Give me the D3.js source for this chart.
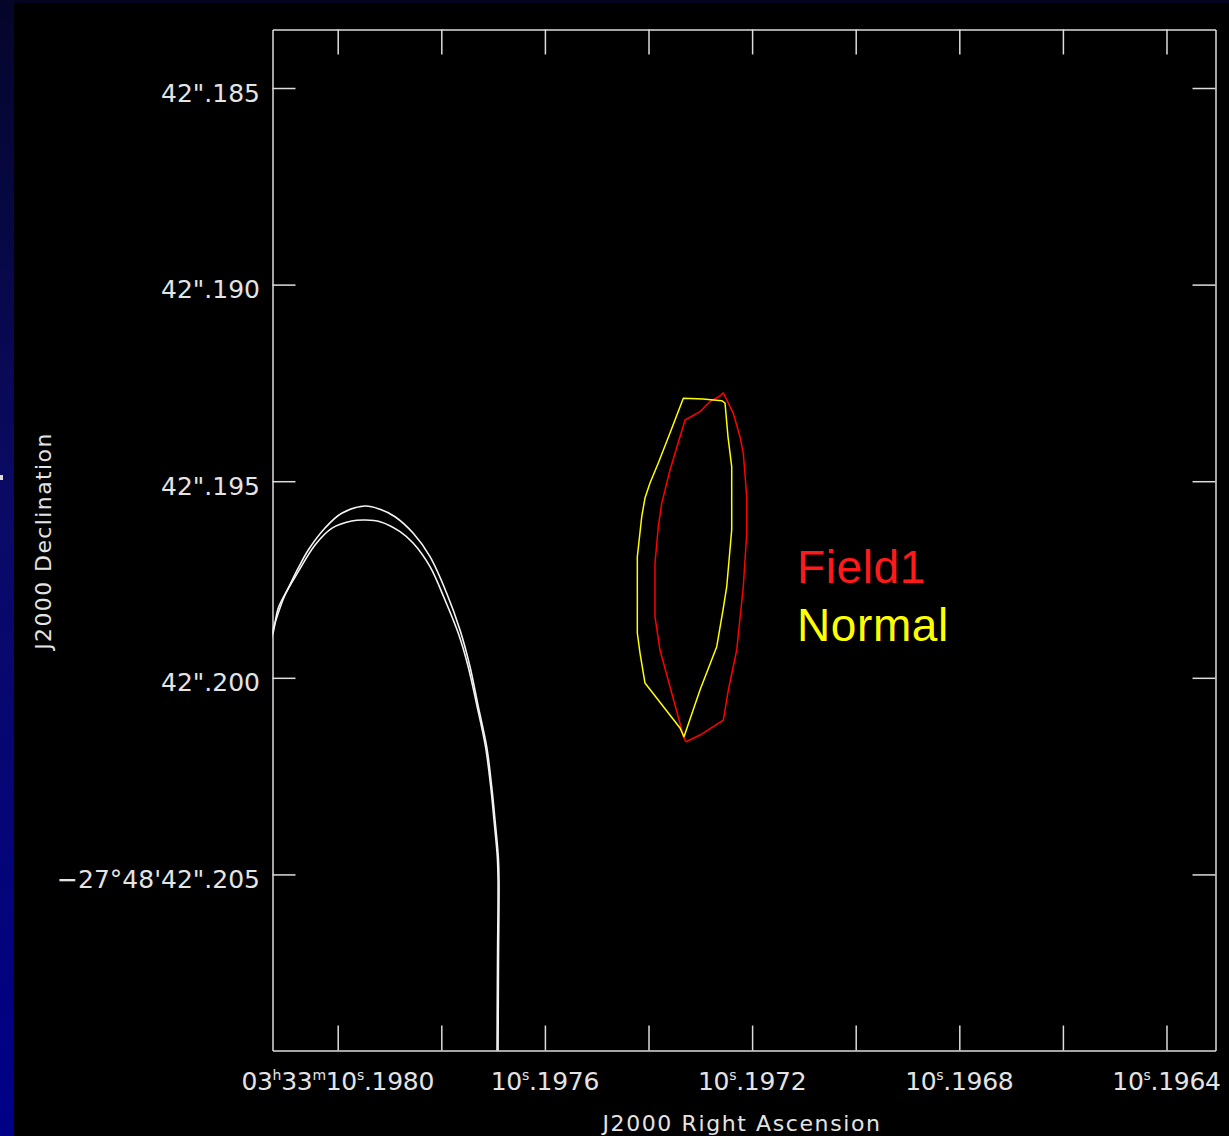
<!DOCTYPE html>
<html>
<head>
<meta charset="utf-8">
<script src="https://cdn.jsdelivr.net/npm/d3@7"></script>
<style>
  html, body { margin: 0; padding: 0; background: #000; }
  svg { display: block; }
</style>
</head>
<body>
<svg id="chart" width="1229" height="1136"></svg>
<script>
// ---- Axis ticks (RA in seconds of time past 03h33m, Dec in arcsec past -27°48') ----
const raTicks = [10.1980, 10.1978, 10.1976, 10.1974, 10.1972, 10.1970, 10.1968, 10.1966, 10.1964];
const raLabelTicks = [10.1980, 10.1976, 10.1972, 10.1968, 10.1964];
const raTickLabels = ["03^h33^m10^s.1980", "10^s.1976", "10^s.1972", "10^s.1968", "10^s.1964"];
const decTicks = [42.185, 42.190, 42.195, 42.200, 42.205];
const decTickLabels = ['42".185', '42".190', '42".195', '42".200', "\u221227\u00b048'42\".205"];

// ---- Contour: "Field1" ----
const field1RA = [10.1972556, 10.1972620, 10.1972813, 10.1973006, 10.1973295, 10.1973392, 10.1973585,
  10.1973745, 10.1973811, 10.1973875, 10.1973875, 10.1973778, 10.1973585, 10.1973392, 10.1973328,
  10.1973276, 10.1973006, 10.1972556, 10.1972459, 10.1972297, 10.1972170, 10.1972104, 10.1972104,
  10.1972170, 10.1972234, 10.1972363];
const field1Dec = [42.192749, 42.192833, 42.192978, 42.193232, 42.193443, 42.193868, 42.194715,
  42.195562, 42.196157, 42.197088, 42.198446, 42.199293, 42.200226, 42.201157, 42.201498,
  42.201625, 42.201455, 42.201073, 42.200310, 42.199293, 42.197683, 42.196325, 42.195394,
  42.194290, 42.193868, 42.193273];

// ---- Contour: "Normal" ----
const normalRA = [10.1973328, 10.1972948, 10.1972587, 10.1972523, 10.1972465, 10.1972394, 10.1972394,
  10.1972490, 10.1972562, 10.1972683, 10.1973006, 10.1973315, 10.1973392, 10.1974068, 10.1974164,
  10.1974216, 10.1974216, 10.1974131, 10.1974068, 10.1973971, 10.1973811, 10.1973585];
const normalDec = [42.192892, 42.192909, 42.192953, 42.193011, 42.193876, 42.194631, 42.196241,
  42.197683, 42.198276, 42.199209, 42.200310, 42.201498, 42.201276, 42.200132, 42.199369,
  42.198860, 42.196920, 42.195903, 42.195427, 42.195046, 42.194537, 42.193774];

// ---- Large white contour pair on the left ----
const arcOuterRA = [10.1981307, 10.1981243, 10.1981147, 10.1980954, 10.1980761, 10.1980568, 10.1980245,
  10.1979923, 10.1979473, 10.1979183, 10.1978894, 10.1978541, 10.1978218, 10.1977896, 10.1977639,
  10.1977446, 10.1977286, 10.1977124, 10.1977027, 10.1976963, 10.1976900, 10.1976886, 10.1976896,
  10.1976905];
const arcOuterDec = [42.199064, 42.198827, 42.198225, 42.197716, 42.197207, 42.196750, 42.196190,
  42.195816, 42.195631, 42.195714, 42.195903, 42.196325, 42.196920, 42.197851, 42.198784,
  42.199717, 42.200734, 42.201752, 42.202769, 42.203616, 42.204549, 42.205142, 42.207177,
  42.209593];
const arcInnerRA = [10.1981307, 10.1981243, 10.1981017, 10.1980761, 10.1980438, 10.1980116, 10.1979730,
  10.1979473, 10.1979183, 10.1978797, 10.1978541, 10.1978218, 10.1977929, 10.1977672, 10.1977485,
  10.1977311, 10.1977147, 10.1977046, 10.1976983, 10.1976919, 10.1976905, 10.1976915, 10.1976925];
const arcInnerDec = [42.198988, 42.198733, 42.197894, 42.197301, 42.196622, 42.196198, 42.196012,
  42.195987, 42.196030, 42.196284, 42.196579, 42.197174, 42.198021, 42.198868, 42.199700,
  42.200717, 42.201752, 42.202769, 42.203616, 42.204549, 42.205142, 42.207177, 42.209593];

const legendLabels = ["Field1", "Normal"];
const legendColors = ["#ff1a1a", "#ffff00"];

// ---- Layout ----
const W = 1229, H = 1136;
const frame = { left: 272.5, right: 1215.5, top: 29.5, bottom: 1050.5 };
const svg = d3.select("#chart");

// Slide background: black with a blue edge on the left and a thin navy band on top
const defs = svg.append("defs");
const grad = defs.append("linearGradient").attr("id", "edge").attr("x1", 0).attr("y1", 0).attr("x2", 0).attr("y2", 1);
grad.append("stop").attr("offset", "0%").attr("stop-color", "#05052a");
grad.append("stop").attr("offset", "45%").attr("stop-color", "#0a0a66");
grad.append("stop").attr("offset", "100%").attr("stop-color", "#000088");
svg.append("rect").attr("width", W).attr("height", H).attr("fill", "#000");
svg.append("rect").attr("width", W).attr("height", 3.5).attr("fill", "#04041e");
svg.append("rect").attr("width", 14).attr("height", H).attr("fill", "url(#edge)");
svg.append("rect").attr("x", 0).attr("y", 475).attr("width", 3).attr("height", 5).attr("fill", "#ddd");

// Scales: RA increases to the left, Dec value increases downward (more negative declination)
const x = d3.scaleLinear().domain([10.1981259, 10.1963054]).range([frame.left, frame.right]);
const y = d3.scaleLinear().domain([42.183512, 42.209478]).range([frame.top, frame.bottom]);

defs.append("clipPath").attr("id", "plotClip").append("rect")
  .attr("x", frame.left).attr("y", frame.top)
  .attr("width", frame.right - frame.left).attr("height", frame.bottom - frame.top);

const axisColor = "#dcdcdc";
function styleAxis(g) {
  g.selectAll("path.domain").attr("stroke", axisColor).attr("stroke-width", 1.5);
  g.selectAll(".tick line").attr("stroke", axisColor).attr("stroke-width", 1.5);
  g.selectAll(".tick text").remove();
}
svg.append("g").attr("transform", `translate(0,${frame.bottom})`)
  .call(d3.axisBottom(x).tickValues(raTicks).tickSize(-25).tickSizeOuter(0).tickFormat(""))
  .call(styleAxis);
svg.append("g").attr("transform", `translate(0,${frame.top})`)
  .call(d3.axisTop(x).tickValues(raTicks).tickSize(-25).tickSizeOuter(0).tickFormat(""))
  .call(styleAxis);
svg.append("g").attr("transform", `translate(${frame.left},0)`)
  .call(d3.axisLeft(y).tickValues(decTicks).tickSize(-23).tickSizeOuter(0).tickFormat(""))
  .call(styleAxis);
svg.append("g").attr("transform", `translate(${frame.right},0)`)
  .call(d3.axisRight(y).tickValues(decTicks).tickSize(-23).tickSizeOuter(0).tickFormat(""))
  .call(styleAxis);

// Tick labels with sexagesimal superscripts (^h, ^m, ^s)
const labelFont = "'DejaVu Sans', sans-serif";
const textColor = "#e4e4e4";
function writeLabel(t, str, supSize) {
  const parts = str.split(/(\^.)/).filter(s => s.length);
  let raised = false;
  parts.forEach(p => {
    if (p[0] === "^") {
      t.append("tspan").attr("font-size", supSize).attr("dy", -10).text(p[1]);
      raised = true;
    } else {
      const ts = t.append("tspan").text(p);
      if (raised) { ts.attr("dy", 10); raised = false; }
    }
  });
}

svg.append("g").selectAll("text").data(raLabelTicks).join("text")
  .attr("x", d => x(d)).attr("y", 1090)
  .attr("text-anchor", "middle")
  .attr("font-family", labelFont).attr("font-size", 25)
  .attr("letter-spacing", -0.3)
  .attr("fill", textColor)
  .each(function(d, i) { writeLabel(d3.select(this), raTickLabels[i], 14); });

svg.append("g").selectAll("text").data(decTicks).join("text")
  .attr("x", 260).attr("y", d => y(d) + 13.5)
  .attr("text-anchor", "end")
  .attr("font-family", labelFont).attr("font-size", 25)
  .attr("fill", textColor)
  .text((d, i) => decTickLabels[i]);

// Axis titles
svg.append("text").attr("x", 742).attr("y", 1131)
  .attr("text-anchor", "middle").attr("font-family", labelFont).attr("font-size", 22)
  .attr("letter-spacing", 1.6).attr("fill", textColor)
  .text("J2000 Right Ascension");
svg.append("text").attr("transform", "translate(51,541) rotate(-90)")
  .attr("text-anchor", "middle").attr("font-family", labelFont).attr("font-size", 22)
  .attr("letter-spacing", 1.4).attr("fill", textColor)
  .text("J2000 Declination");

// Contours
const plot = svg.append("g").attr("clip-path", "url(#plotClip)");
const zipPts = (ra, dec) => ra.map((r, i) => [r, dec[i]]);
const smooth = d3.line().x(d => x(d[0])).y(d => y(d[1])).curve(d3.curveCatmullRom.alpha(0.5));
const closed = d3.line().x(d => x(d[0])).y(d => y(d[1])).curve(d3.curveLinearClosed);

plot.append("path").attr("d", smooth(zipPts(arcOuterRA, arcOuterDec)))
  .attr("fill", "none").attr("stroke", "#f4f4f4").attr("stroke-width", 1.6);
plot.append("path").attr("d", smooth(zipPts(arcInnerRA, arcInnerDec)))
  .attr("fill", "none").attr("stroke", "#f4f4f4").attr("stroke-width", 1.6);

plot.append("path").attr("d", closed(zipPts(field1RA, field1Dec)))
  .attr("fill", "none").attr("stroke", "#ff0000").attr("stroke-width", 1.5).attr("stroke-linejoin", "round");
plot.append("path").attr("d", closed(zipPts(normalRA, normalDec)))
  .attr("fill", "none").attr("stroke", "#ffff00").attr("stroke-width", 1.5).attr("stroke-linejoin", "round");

// Legend
svg.append("g").selectAll("text").data(legendLabels).join("text")
  .attr("x", 797).attr("y", (d, i) => 583 + i * 58)
  .attr("font-family", "'Liberation Sans', Arial, sans-serif").attr("font-size", 46)
  .attr("letter-spacing", 0.6)
  .attr("fill", (d, i) => legendColors[i])
  .text(d => d);
</script>
</body>
</html>
